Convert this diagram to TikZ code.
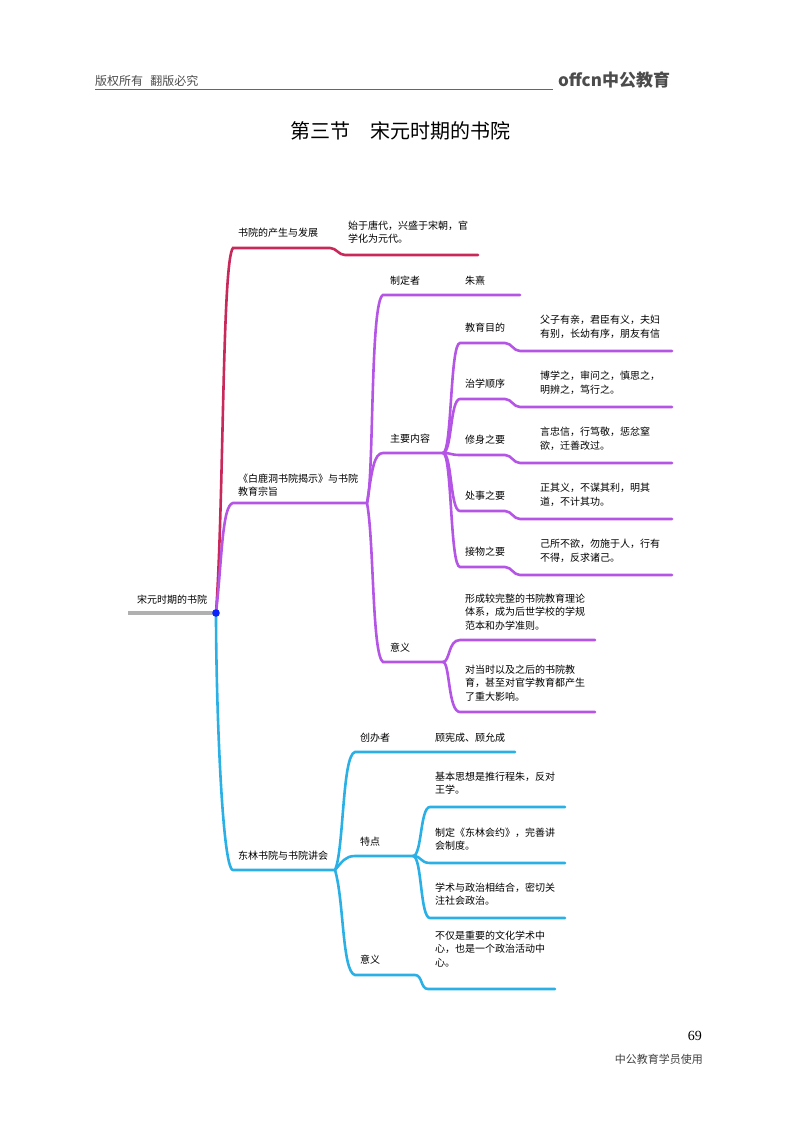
\documentclass[tikz,border=0pt]{standalone}
\usepackage{fontspec}
\setmainfont{Noto Sans CJK SC}
\newfontfamily\serifcjk{Liberation Serif}
\definecolor{cr}{HTML}{C8285A}
\definecolor{cp}{HTML}{B455E6}
\definecolor{cb}{HTML}{2BB0E6}
\definecolor{cg}{HTML}{B0B0B0}
\begin{document}
\begin{tikzpicture}[x=1pt,y=-1pt,
  br/.style={line width=2.6pt,line cap=round},
  lab/.style={inner sep=0pt,anchor=west,font=\fontsize{10}{13.5}\selectfont,align=left},
]
\useasboundingbox (0,0) rectangle (800,1124);
% header
\node[inner sep=0,anchor=west,font=\fontsize{12}{14}\selectfont,text=black!70] (hd) at (95,81) {版权所有\hspace{0.6em}翻版必究};
\coordinate (hl1) at (95,89); \coordinate (hl2) at (553,89);
\draw[black!60,line width=0.7pt] (hl1) -- (hl2);
\node[inner sep=0,anchor=west,font=\bfseries\fontsize{17}{18}\selectfont,text=black!70] (logo) at (558,80) {offcn中公教育};
\node[inner sep=0,font=\fontsize{20}{22}\selectfont] (title) at (400,131) {第三节\hspace{1em}宋元时期的书院};
\node[inner sep=0,anchor=east,font=\serifcjk\fontsize{14}{16}\selectfont] (pg) at (702,1036) {69};
\node[inner sep=0,anchor=east,font=\fontsize{11}{13}\selectfont,text=black!75] (ft) at (703,1059) {中公教育学员使用};
% root
\coordinate (r0) at (128,613); \coordinate (R) at (216,613);
\draw[line width=3.5pt,cg] (r0) -- (R);
\node[lab] (rt) at (137,600) {宋元时期的书院};
% red
\coordinate (a1) at (233,248); \coordinate (a2) at (330,248); \coordinate (a3) at (345,255); \coordinate (a4) at (478,255);
\draw[br,cr] (R) .. controls (224,500) and (222,260) .. (a1) -- (a2) to[out=0,in=180] (a3) -- (a4);
\node[lab] (t1) at (238,233) {书院的产生与发展};
\node[lab] (t1b) at (348,232) {始于唐代，兴盛于宋朝，官\\学化为元代。};
% purple
\coordinate (b1) at (233,503); \coordinate (B) at (367,503);
\draw[br,cp] (R) .. controls (222,560) and (222,505) .. (b1) -- (B);
\node[lab] (t2) at (238,485) {《白鹿洞书院揭示》与书院\\教育宗旨};
\coordinate (c1) at (383,295); \coordinate (c1e) at (520,295);
\coordinate (c2) at (383,453); \coordinate (C) at (443,453);
\coordinate (c3) at (383,662); \coordinate (D) at (443,662);
\draw[br,cp] (B) .. controls (374,480) and (370,300) .. (c1) -- (c1e);
\draw[br,cp] (B) .. controls (372,470) and (374,453) .. (c2) -- (C);
\draw[br,cp] (B) .. controls (374,540) and (372,655) .. (c3) -- (D);
\node[lab] (s1) at (390,281) {制定者};
\node[lab] (s1b) at (465,281) {朱熹};
\node[lab] (s2) at (390,439) {主要内容};
\node[lab] (s3) at (390,648) {意义};
\foreach \y/\a/\b [count=\i] in {351/教育目的/{父子有亲，君臣有义，夫妇\\有别，长幼有序，朋友有信},407/治学顺序/{博学之，审问之，慎思之，\\明辨之，笃行之。},463/修身之要/{言忠信，行笃敬，惩忿窒\\欲，迁善改过。},519/处事之要/{正其义，不谋其利，明其\\道，不计其功。},575/接物之要/{己所不欲，勿施于人，行有\\不得，反求诸己。}}{
  \coordinate (m\i) at (460,\y-8); \coordinate (n\i) at (520,\y); \coordinate (e\i) at (672,\y);
  \draw[br,cp] (C) .. controls (452,453) and (450,\y-8) .. (m\i) -- (505,\y-8) to[out=0,in=180] (n\i) -- (e\i);
  \node[lab] (k\i) at (465,\y-23) {\a};
  \node[lab] (v\i) at (540,\y-24) {\b};
}
\coordinate (d1) at (460,640); \coordinate (d1e) at (595,640);
\coordinate (d2) at (460,712); \coordinate (d2e) at (595,712);
\draw[br,cp] (D) .. controls (450,662) and (448,640) .. (d1) -- (d1e);
\draw[br,cp] (D) .. controls (450,662) and (448,712) .. (d2) -- (d2e);
\node[lab] (dt1) at (465,612) {形成较完整的书院教育理论\\体系，成为后世学校的学规\\范本和办学准则。};
\node[lab] (dt2) at (465,683) {对当时以及之后的书院教\\育，甚至对官学教育都产生\\了重大影响。};
% blue
\coordinate (f1) at (233,870); \coordinate (F) at (335,870);
\draw[br,cb] (R) .. controls (216,700) and (222,870) .. (f1) -- (F);
\node[lab] (t3) at (238,856) {东林书院与书院讲会};
\coordinate (g1) at (355,752); \coordinate (g1e) at (515,752);
\coordinate (g2) at (355,856); \coordinate (G) at (413,856);
\coordinate (g3) at (355,975); \coordinate (g3a) at (415,975); \coordinate (g3b) at (428,989); \coordinate (g3e) at (555,989);
\draw[br,cb] (F) .. controls (344,850) and (342,755) .. (g1) -- (g1e);
\draw[br,cb] (F) .. controls (342,862) and (345,856) .. (g2) -- (G);
\draw[br,cb] (F) .. controls (344,900) and (342,972) .. (g3) -- (g3a) to[out=0,in=180] (g3b) -- (g3e);
\node[lab] (u1) at (360,738) {创办者};
\node[lab] (u1b) at (435,738) {顾宪成、顾允成};
\node[lab] (u2) at (360,842) {特点};
\node[lab] (u3) at (360,960) {意义};
\foreach \y/\b [count=\i] in {807/{基本思想是推行程朱，反对\\王学。},863/{制定《东林会约》，完善讲\\会制度。},918/{学术与政治相结合，密切关\\注社会政治。}}{
  \coordinate (h\i) at (430,\y); \coordinate (he\i) at (565,\y);
  \draw[br,cb] (G) .. controls (422,856) and (420,\y) .. (h\i) -- (he\i);
  \node[lab] (w\i) at (435,\y-24) {\b};
}
\node[lab] (u3b) at (435,949) {不仅是重要的文化学术中\\心，也是一个政治活动中\\心。};
\fill[blue!80!cb] (R) circle (3.8);
\end{tikzpicture}
\end{document}
